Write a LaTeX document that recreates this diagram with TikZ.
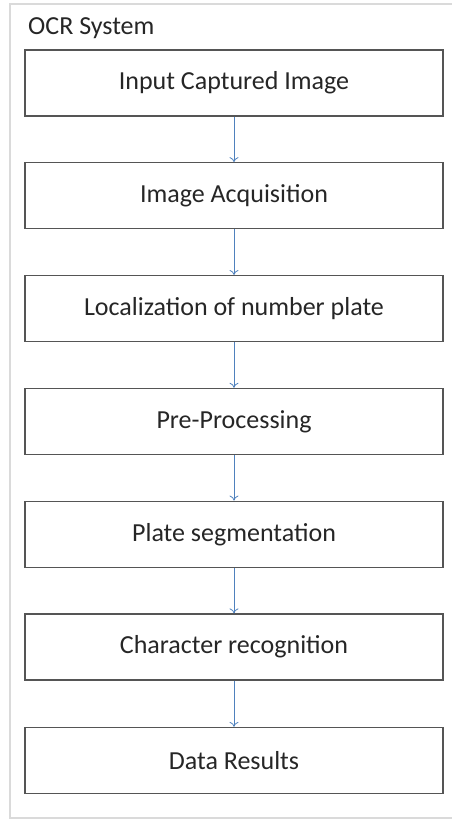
\documentclass[tikz,border=0pt]{standalone}
\usepackage{fontspec}
\setmainfont{Carlito}
\usetikzlibrary{arrows.meta}
\definecolor{flowblue}{RGB}{79,129,189}
\definecolor{framegray}{RGB}{218,218,218}
\definecolor{boxgray}{RGB}{85,85,85}
\tikzset{
  stagebox/.style = {draw=boxgray, line width=1.3pt, minimum width=418pt, minimum height=66pt,
                     inner sep=0pt, font=\fontsize{26}{30}\selectfont, text=black!85},
  flowarrow/.style = {draw=flowblue, line width=0.8pt, -{To[length=5pt,width=9pt]}}
}
\begin{document}
\begin{tikzpicture}[x=1pt, y=-1pt]
        \useasboundingbox (0,0) rectangle (452,820);
        \draw[framegray, line width=1.5pt] (10,4) rectangle (470,818);
        \node[anchor=west, inner sep=0pt, font=\fontsize{26}{30}\selectfont, text=black!85] (title) at (28,28) {OCR System};
        \node[stagebox] (input)    at (234, 83)    {Input Captured Image};
        \node[stagebox] (acquire)  at (234, 195.8) {Image Acquisition};
        \node[stagebox] (localize) at (234, 308.6) {Localization of number plate};
        \node[stagebox] (preproc)  at (234, 421.4) {Pre-Processing};
        \node[stagebox] (segment)  at (234, 534.2) {Plate segmentation};
        \node[stagebox] (charrec)  at (234, 647)   {Character recognition};
        \node[stagebox] (results)  at (234, 760.5) {Data Results};
        \draw[flowarrow] (input)    -- (acquire);
        \draw[flowarrow] (acquire)  -- (localize);
        \draw[flowarrow] (localize) -- (preproc);
        \draw[flowarrow] (preproc)  -- (segment);
        \draw[flowarrow] (segment)  -- (charrec);
        \draw[flowarrow] (charrec)  -- (results);
      \end{tikzpicture}
\end{document}
